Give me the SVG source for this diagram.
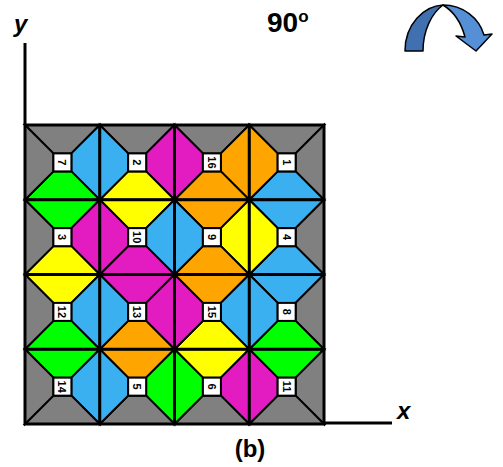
<svg xmlns="http://www.w3.org/2000/svg" xmlns:xlink="http://www.w3.org/1999/xlink" width="503" height="467" viewBox="0 0 503 467">
<style>
.g{fill:#808080}.bl{fill:#3AB0F0}.m{fill:#E31CC1}.gr{fill:#00FF00}.y{fill:#FFFF00}.o{fill:#FFA500}
.tri{stroke:#000;stroke-width:2;stroke-linejoin:miter}
.sq{fill:#fff;stroke:#000;stroke-width:2}
.num{font-family:"Liberation Sans",Arial,sans-serif;font-size:11px;font-weight:bold;text-anchor:middle;dominant-baseline:central;fill:#000}
.lbl{font-family:"Liberation Sans",Arial,sans-serif;font-weight:bold;fill:#000}
.ax{stroke:#000;stroke-width:3;fill:none}
</style>
<defs>
<polygon id="t" class="tri" points="0,0 74.75,0 46.4,28.4 28.4,28.4"/>
<polygon id="r" class="tri" points="74.75,0 74.75,74.75 46.4,46.4 46.4,28.4"/>
<polygon id="b" class="tri" points="0,74.75 74.75,74.75 46.4,46.4 28.4,46.4"/>
<polygon id="l" class="tri" points="0,0 0,74.75 28.4,46.4 28.4,28.4"/>
<rect id="sq" class="sq" x="28.4" y="28.4" width="18" height="18"/>
</defs>

<g id="cell-7" transform="translate(25,125)"><use href="#t" class="g"/><use href="#r" class="bl"/><use href="#b" class="gr"/><use href="#l" class="g"/><use href="#sq"/><text class="num" x="37.4" y="37.4" transform="rotate(90 37.4 37.4)">7</text></g>
<g id="cell-2" transform="translate(99.75,125)"><use href="#t" class="g"/><use href="#r" class="m"/><use href="#b" class="y"/><use href="#l" class="bl"/><use href="#sq"/><text class="num" x="37.4" y="37.4" transform="rotate(90 37.4 37.4)">2</text></g>
<g id="cell-16" transform="translate(174.5,125)"><use href="#t" class="g"/><use href="#r" class="o"/><use href="#b" class="o"/><use href="#l" class="m"/><use href="#sq"/><text class="num" x="37.4" y="37.4" transform="rotate(90 37.4 37.4)">16</text></g>
<g id="cell-1" transform="translate(249.25,125)"><use href="#t" class="g"/><use href="#r" class="g"/><use href="#b" class="bl"/><use href="#l" class="o"/><use href="#sq"/><text class="num" x="37.4" y="37.4" transform="rotate(90 37.4 37.4)">1</text></g>

<g id="cell-3" transform="translate(25,199.75)"><use href="#t" class="gr"/><use href="#r" class="m"/><use href="#b" class="y"/><use href="#l" class="g"/><use href="#sq"/><text class="num" x="37.4" y="37.4" transform="rotate(90 37.4 37.4)">3</text></g>
<g id="cell-10" transform="translate(99.75,199.75)"><use href="#t" class="y"/><use href="#r" class="bl"/><use href="#b" class="m"/><use href="#l" class="m"/><use href="#sq"/><text class="num" x="37.4" y="37.4" transform="rotate(90 37.4 37.4)">10</text></g>
<g id="cell-9" transform="translate(174.5,199.75)"><use href="#t" class="o"/><use href="#r" class="y"/><use href="#b" class="o"/><use href="#l" class="bl"/><use href="#sq"/><text class="num" x="37.4" y="37.4" transform="rotate(90 37.4 37.4)">9</text></g>
<g id="cell-4" transform="translate(249.25,199.75)"><use href="#t" class="bl"/><use href="#r" class="g"/><use href="#b" class="bl"/><use href="#l" class="y"/><use href="#sq"/><text class="num" x="37.4" y="37.4" transform="rotate(90 37.4 37.4)">4</text></g>

<g id="cell-12" transform="translate(25,274.5)"><use href="#t" class="y"/><use href="#r" class="bl"/><use href="#b" class="gr"/><use href="#l" class="g"/><use href="#sq"/><text class="num" x="37.4" y="37.4" transform="rotate(90 37.4 37.4)">12</text></g>
<g id="cell-13" transform="translate(99.75,274.5)"><use href="#t" class="m"/><use href="#r" class="m"/><use href="#b" class="o"/><use href="#l" class="bl"/><use href="#sq"/><text class="num" x="37.4" y="37.4" transform="rotate(90 37.4 37.4)">13</text></g>
<g id="cell-15" transform="translate(174.5,274.5)"><use href="#t" class="o"/><use href="#r" class="bl"/><use href="#b" class="y"/><use href="#l" class="m"/><use href="#sq"/><text class="num" x="37.4" y="37.4" transform="rotate(90 37.4 37.4)">15</text></g>
<g id="cell-8" transform="translate(249.25,274.5)"><use href="#t" class="bl"/><use href="#r" class="g"/><use href="#b" class="gr"/><use href="#l" class="bl"/><use href="#sq"/><text class="num" x="37.4" y="37.4" transform="rotate(90 37.4 37.4)">8</text></g>

<g id="cell-14" transform="translate(25,349.25)"><use href="#t" class="gr"/><use href="#r" class="bl"/><use href="#b" class="g"/><use href="#l" class="g"/><use href="#sq"/><text class="num" x="37.4" y="37.4" transform="rotate(90 37.4 37.4)">14</text></g>
<g id="cell-5" transform="translate(99.75,349.25)"><use href="#t" class="o"/><use href="#r" class="gr"/><use href="#b" class="g"/><use href="#l" class="bl"/><use href="#sq"/><text class="num" x="37.4" y="37.4" transform="rotate(90 37.4 37.4)">5</text></g>
<g id="cell-6" transform="translate(174.5,349.25)"><use href="#t" class="y"/><use href="#r" class="m"/><use href="#b" class="g"/><use href="#l" class="gr"/><use href="#sq"/><text class="num" x="37.4" y="37.4" transform="rotate(90 37.4 37.4)">6</text></g>
<g id="cell-11" transform="translate(249.25,349.25)"><use href="#t" class="gr"/><use href="#r" class="g"/><use href="#b" class="g"/><use href="#l" class="m"/><use href="#sq"/><text class="num" x="37.4" y="37.4" transform="rotate(90 37.4 37.4)">11</text></g>

<g id="grid" class="ax">
<rect x="25" y="125" width="299" height="299"/>
<line x1="99.75" y1="125" x2="99.75" y2="424"/>
<line x1="174.5" y1="125" x2="174.5" y2="424"/>
<line x1="249.25" y1="125" x2="249.25" y2="424"/>
<line x1="25" y1="199.75" x2="324" y2="199.75"/>
<line x1="25" y1="274.5" x2="324" y2="274.5"/>
<line x1="25" y1="349.25" x2="324" y2="349.25"/>
</g>

<g id="connectors" class="ax">
<line x1="25" y1="43" x2="25" y2="125"/>
<line x1="324" y1="423" x2="392" y2="423"/>
</g>

<g id="labels">
<text class="lbl" x="14" y="32" font-size="24" font-style="italic">y</text>
<text class="lbl" x="397" y="419" font-size="24" font-style="italic">x</text>
<text class="lbl" x="267" y="32" font-size="28">90<tspan font-size="17" dy="-10">o</tspan></text>
<text class="lbl" x="250" y="457" font-size="24" text-anchor="middle">(b)</text>
</g>

<g id="rotate-arrow" stroke="#000" stroke-width="1.5" stroke-linejoin="round">
<path d="M443,5 C463,5 479,18 484,35 L492,34 L476,51 L456,36 L465,37 C461,22 453,11 443,5 Z" fill="#5590D6"/>
<path d="M405,51 C405,24 424,6 443,5 C432,13 423,30 423,51 Z" fill="#4170B0"/>
</g>
</svg>
